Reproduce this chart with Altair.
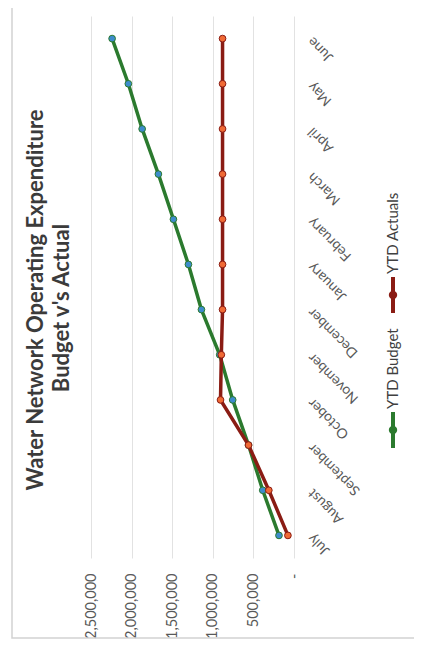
import altair as alt
import pandas as pd

months = ["July", "August", "September", "October", "November", "December",
          "January", "February", "March", "April", "May", "June"]
ytd_budget = [185000, 385000, 560000, 755000, 915000, 1140000,
              1300000, 1485000, 1670000, 1870000, 2040000, 2240000]
ytd_actuals = [75000, 310000, 560000, 905000, 895000, 880000,
               880000, 880000, 880000, 880000, 880000, 880000]
series_names = ["YTD Budget", "YTD Actuals"]
line_colors = ["#2b7a2e", "#8a1c14"]
marker_colors = ["#3d8ccc", "#f06a35"]
value_ticks = [0, 500000, 1000000, 1500000, 2000000, 2500000]
title_lines = ["Water Network Operating Expenditure", "Budget v's Actual"]

rows = []
for i, m in enumerate(months):
    rows.append({"month": m, "idx": i, "series": series_names[0], "value": ytd_budget[i]})
    rows.append({"month": m, "idx": i, "series": series_names[1], "value": ytd_actuals[i]})
df = pd.DataFrame(rows)
one = pd.DataFrame({"k": [0]})

W, H = 203, 542
FONT = "Lato"
GRAY = "#595959"

x_enc = alt.X(
    "value:Q",
    scale=alt.Scale(domain=[0, 2500000], reverse=True, nice=False),
    axis=alt.Axis(
        values=value_ticks, orient="bottom", labelAngle=270, labelAlign="right",
        labelBaseline="middle", labelPadding=15, ticks=False, domain=False,
        grid=True, gridColor="#e2e2e2", gridWidth=1, labelOverlap=False,
        labelExpr="datum.value == 0 ? '-\u00a0\u00a0\u00a0' : format(datum.value, ',')",
        labelFont=FONT, labelFontSize=14.5, labelColor=GRAY, title=None,
    ),
)
y_enc = alt.Y(
    "month:O", sort=months[::-1],
    scale=alt.Scale(padding=0.5),
    axis=alt.Axis(
        orient="right", labelAngle=225, labelAlign="right", labelBaseline="middle",
        labelPadding=16, ticks=False, domain=False, grid=False, labelOverlap=False,
        labelFont=FONT, labelFontSize=14, labelColor=GRAY, title=None,
    ),
)

layers = []
for name, lc, mc in zip(series_names, line_colors, marker_colors):
    base = alt.Chart(df).transform_filter(alt.datum.series == name)
    layers.append(base.mark_line(strokeWidth=3.5, color=lc).encode(x=x_enc, y=y_enc, order="idx:Q"))
    layers.append(base.mark_point(filled=True, size=45, fill=mc, stroke=lc, strokeWidth=1, opacity=1)
                  .encode(x=x_enc, y=y_enc))

# outer frame
frame = alt.Chart(one).mark_rect(fillOpacity=0, stroke="#d2d2d2", strokeWidth=1.5).encode(
    x=alt.value(-79), x2=alt.value(326), y=alt.value(-11), y2=alt.value(622))

# title (rotated)
title1 = alt.Chart(one).mark_text(text=title_lines[0], angle=270, align="center", baseline="middle",
                                  font=FONT, fontSize=22, fontWeight="bold", color="#3b3b3b").encode(
    x=alt.value(-55), y=alt.value(284))
title2 = alt.Chart(one).mark_text(text=title_lines[1], angle=270, align="center", baseline="middle",
                                  font=FONT, fontSize=22, fontWeight="bold", color="#3b3b3b").encode(
    x=alt.value(-29), y=alt.value(292))

# legend (rotated)
legend_layers = []
leg_pos = [(396, 432, 414, 393), (261, 297, 279, 258)]
for name, lc, (y1, y2, yd, yt) in zip(series_names, line_colors, leg_pos):
    legend_layers.append(alt.Chart(one).mark_rule(strokeWidth=4, color=lc).encode(
        x=alt.value(302), y=alt.value(y1), y2=alt.value(y2)))
    legend_layers.append(alt.Chart(one).mark_point(filled=True, size=70, color=lc, opacity=1).encode(
        x=alt.value(302), y=alt.value(yd)))
    legend_layers.append(alt.Chart(one).mark_text(text=name, angle=270, align="left", baseline="middle",
                                                  font=FONT, fontSize=15, color="#404040").encode(
        x=alt.value(302), y=alt.value(yt)))

chart = alt.layer(frame, *layers, title1, title2, *legend_layers).properties(
    width=W, height=H,
    autosize=alt.AutoSizeParams(type="none"),
    padding={"left": 83, "top": 8, "right": 120, "bottom": 86},
    background="white",
).configure_view(strokeWidth=0)

chart.save("out.html", embed_options={"renderer": "svg", "actions": False})
